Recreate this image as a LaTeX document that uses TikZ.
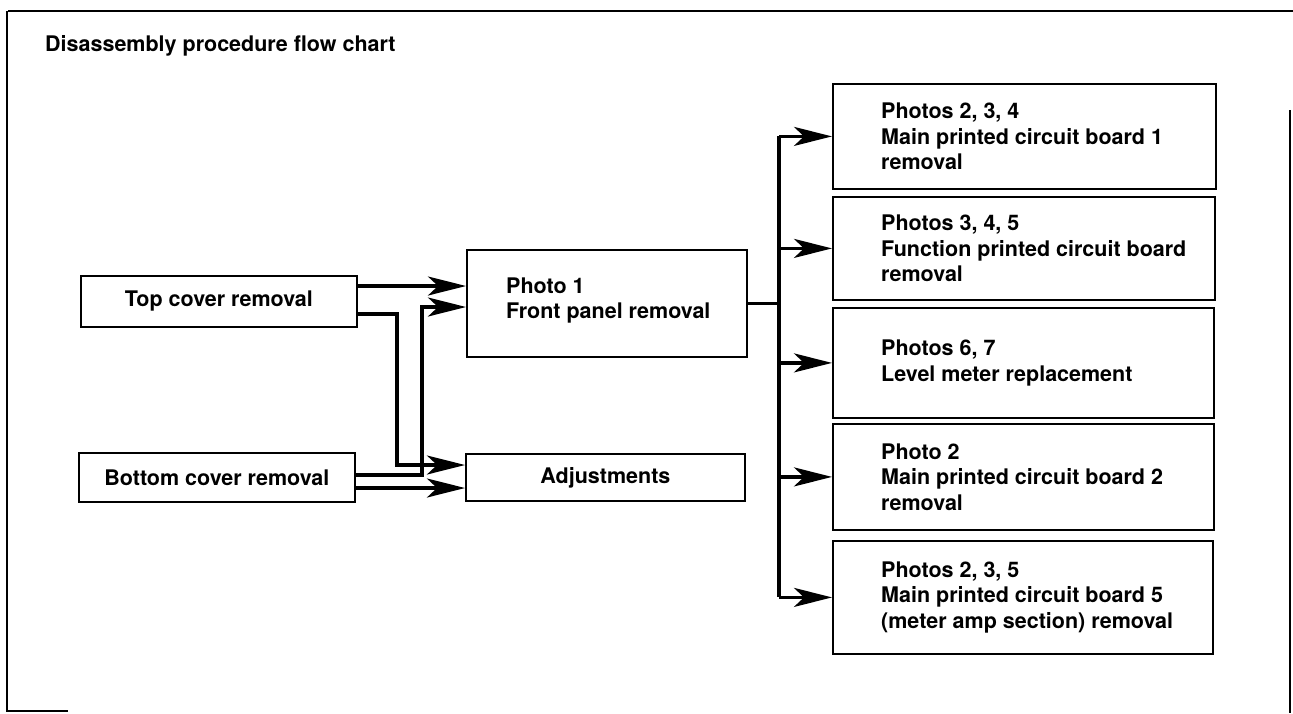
\documentclass[tikz,border=0pt]{standalone}
\usepackage{fontspec}
\setmainfont{TeX Gyre Heros}
\usetikzlibrary{arrows.meta,calc}
\begin{document}
\begin{tikzpicture}[x=1pt,y=-1pt,
  box/.style={draw,line width=1.8pt,fill=white,rectangle,inner sep=0pt,anchor=north west},
  lbl/.style={font=\bfseries\fontsize{21.5}{25.5}\selectfont,inner sep=0pt,align=left},
  ln/.style={line width=3.2pt,line join=miter},
  arr/.style={ln,-{Stealth[length=38pt,width=19pt,inset=10pt]}},
  frame/.style={line width=1.5pt}]
\useasboundingbox (0,0) rectangle (1293,713);
% outer frame (scanned page edges)
\draw[frame] (8,11) -- (1293,11);
\draw[frame] (7,11) -- (7,711) -- (68,711);
\draw[frame] (1290,110) -- (1290,713);
% title
\node[lbl,anchor=base west] (title) at (45,51) {Disassembly procedure flow chart};
% left boxes
\node[box,minimum width=276pt,minimum height=51pt] (top) at (80,275) {};
\node[lbl] (toplbl) at (top.center) {Top cover removal};
\node[box,minimum width=276pt,minimum height=49pt] (bot) at (78,452) {};
\node[lbl] (botlbl) at (bot.center) {Bottom cover removal};
% middle boxes
\node[box,minimum width=280pt,minimum height=107pt] (photo1) at (466,249) {};
\node[lbl,anchor=west] (photo1lbl) at ($(photo1.west)+(40,-3)$) {Photo 1\\Front panel removal};
\node[box,minimum width=279pt,minimum height=47pt] (adj) at (465,453) {};
\node[lbl] (adjlbl) at (adj.center) {Adjustments};
% right boxes
\node[box,minimum width=383pt,minimum height=105pt] (r1) at (832,83) {};
\node[lbl,anchor=west] (r1lbl) at ($(r1.west)+(49,0)$) {Photos 2, 3, 4\\Main printed circuit board 1\\removal};
\node[box,minimum width=382pt,minimum height=103pt] (r2) at (832,196) {};
\node[lbl,anchor=west] (r2lbl) at ($(r2.west)+(49,0)$) {Photos 3, 4, 5\\Function printed circuit board\\removal};
\node[box,minimum width=381pt,minimum height=110pt] (r3) at (832,307) {};
\node[lbl,anchor=west] (r3lbl) at ($(r3.west)+(49,0)$) {Photos 6, 7\\Level meter replacement};
\node[box,minimum width=381pt,minimum height=106pt] (r4) at (832,423) {};
\node[lbl,anchor=west] (r4lbl) at ($(r4.west)+(49,0)$) {Photo 2\\Main printed circuit board 2\\removal};
\node[box,minimum width=380pt,minimum height=113pt] (r5) at (832,540) {};
\node[lbl,anchor=west] (r5lbl) at ($(r5.west)+(49,0)$) {Photos 2, 3, 5\\Main printed circuit board 5\\(meter amp section) removal};
% trunk on the right
\coordinate (tk) at (779,0);
\draw[ln] (r1.west -| tk) -- (r5.west -| tk);
\draw[ln] (photo1.east) -- (photo1.east -| tk);
\foreach \b in {r1,r2,r3,r4,r5}{
  \draw[arr] (\b.west -| tk) -- (\b.west);
}
% left connectors
\draw[arr] (top.east |- 0,286) -- (photo1.west |- 0,286);
\draw[arr] (top.east |- 0,314) -- (397,314) -- (397,465) -- (adj.west |- 0,465);
\draw[arr] (bot.east |- 0,475) -- (422,475) -- (422,307) -- (photo1.west |- 0,307);
\draw[arr] (bot.east |- 0,488) -- (adj.west |- 0,488);
\end{tikzpicture}
\end{document}
